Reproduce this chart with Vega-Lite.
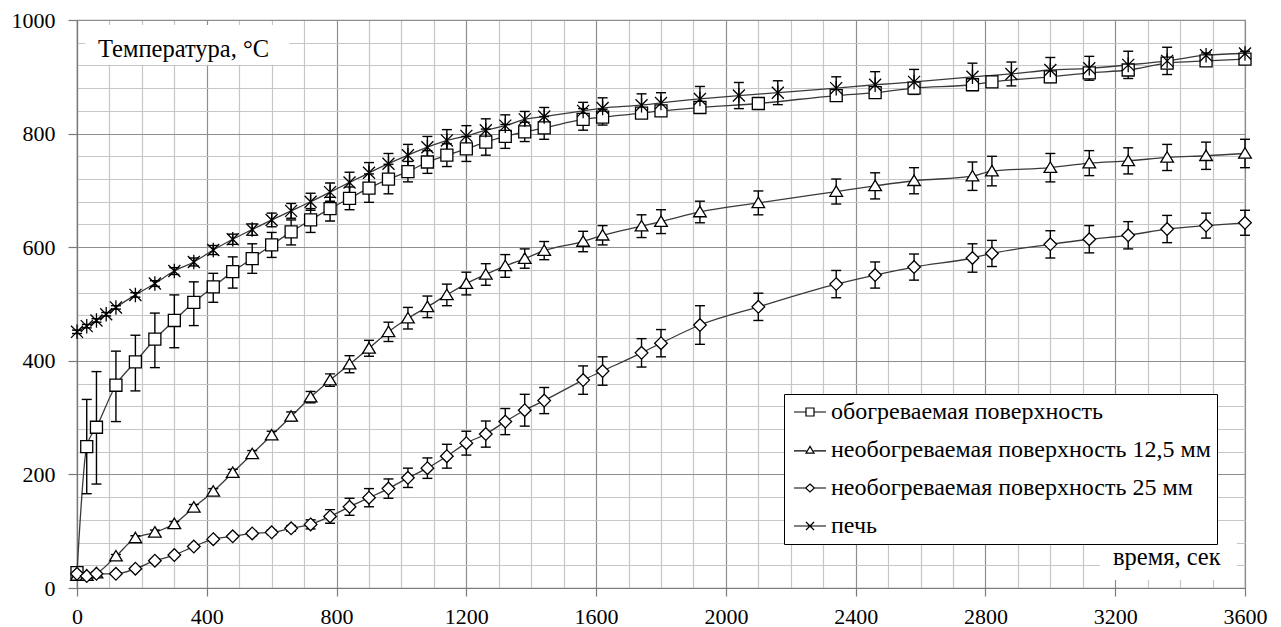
{
  "$schema": "https://vega.github.io/schema/vega-lite/v6.json",
  "width": 1168,
  "height": 568,
  "autosize": {"type": "none"},
  "padding": {"left": 77, "top": 20, "right": 36, "bottom": 39},
  "background": "white",
  "config": {
    "view": {"stroke": "#8a8a8a", "strokeWidth": 1.2},
    "font": "'Liberation Serif', 'DejaVu Serif', serif",
    "axis": {
      "labelFont": "'Liberation Serif', 'DejaVu Serif', serif",
      "labelFontSize": 22,
      "labelColor": "black",
      "domainColor": "#7a7a7a",
      "domainWidth": 1.2,
      "tickColor": "#7a7a7a",
      "tickWidth": 1.2,
      "gridWidth": 1.2,
      "labelOverlap": false,
      "labelFlush": false,
      "title": null
    },
    "legend": {
      "labelFont": "'Liberation Serif', 'DejaVu Serif', serif"
    }
  },
  "resolve": {"scale": {"shape": "independent"}, "legend": {"shape": "independent"}},
  "datasets": {
    "main": [
      {"s":"A","t":0,"T":27,"lo":24,"hi":30},
      {"s":"A","t":30,"T":249,"lo":166,"hi":332},
      {"s":"A","t":60,"T":283,"lo":183,"hi":381},
      {"s":"A","t":120,"T":357,"lo":293,"hi":417},
      {"s":"A","t":180,"T":398,"lo":347,"hi":445},
      {"s":"A","t":240,"T":438,"lo":388,"hi":484},
      {"s":"A","t":300,"T":471,"lo":423,"hi":516},
      {"s":"A","t":360,"T":503,"lo":462,"hi":539},
      {"s":"A","t":420,"T":530,"lo":503,"hi":554},
      {"s":"A","t":480,"T":557,"lo":528,"hi":583},
      {"s":"A","t":540,"T":580,"lo":554,"hi":606},
      {"s":"A","t":600,"T":604,"lo":582,"hi":626},
      {"s":"A","t":660,"T":627,"lo":604,"hi":648},
      {"s":"A","t":720,"T":648,"lo":626,"hi":668},
      {"s":"A","t":780,"T":668,"lo":646,"hi":688},
      {"s":"A","t":840,"T":686,"lo":666,"hi":706},
      {"s":"A","t":900,"T":704,"lo":679,"hi":729},
      {"s":"A","t":960,"T":720,"lo":694,"hi":746},
      {"s":"A","t":1020,"T":733,"lo":715,"hi":751},
      {"s":"A","t":1080,"T":750,"lo":730,"hi":770},
      {"s":"A","t":1140,"T":762,"lo":742,"hi":782},
      {"s":"A","t":1200,"T":773,"lo":751,"hi":795},
      {"s":"A","t":1260,"T":785,"lo":762,"hi":808},
      {"s":"A","t":1320,"T":795,"lo":774,"hi":816},
      {"s":"A","t":1380,"T":803,"lo":786,"hi":820},
      {"s":"A","t":1440,"T":810,"lo":790,"hi":830},
      {"s":"A","t":1560,"T":825,"lo":806,"hi":844},
      {"s":"A","t":1620,"T":829,"lo":815,"hi":843},
      {"s":"A","t":1740,"T":836,"lo":831,"hi":841},
      {"s":"A","t":1800,"T":840,"lo":835,"hi":845},
      {"s":"A","t":1920,"T":846,"lo":842,"hi":850},
      {"s":"A","t":2100,"T":853,"lo":848,"hi":858},
      {"s":"A","t":2340,"T":867,"lo":861,"hi":873},
      {"s":"A","t":2460,"T":872,"lo":866,"hi":878},
      {"s":"A","t":2580,"T":880,"lo":875,"hi":885},
      {"s":"A","t":2760,"T":886,"lo":881,"hi":891},
      {"s":"A","t":2820,"T":891,"lo":888,"hi":894},
      {"s":"A","t":3000,"T":900,"lo":895,"hi":905},
      {"s":"A","t":3120,"T":907,"lo":901,"hi":913},
      {"s":"A","t":3240,"T":912,"lo":906,"hi":918},
      {"s":"A","t":3360,"T":924,"lo":916,"hi":932},
      {"s":"A","t":3480,"T":928,"lo":923,"hi":933},
      {"s":"A","t":3600,"T":931,"lo":926,"hi":936},

      {"s":"B","t":0,"T":22,"lo":20,"hi":24},
      {"s":"B","t":30,"T":22,"lo":20,"hi":24},
      {"s":"B","t":60,"T":26,"lo":24,"hi":28},
      {"s":"B","t":120,"T":56,"lo":53,"hi":59},
      {"s":"B","t":180,"T":88,"lo":84,"hi":92},
      {"s":"B","t":240,"T":98,"lo":94,"hi":102},
      {"s":"B","t":300,"T":113,"lo":109,"hi":117},
      {"s":"B","t":360,"T":142,"lo":137,"hi":147},
      {"s":"B","t":420,"T":170,"lo":165,"hi":175},
      {"s":"B","t":480,"T":203,"lo":197,"hi":209},
      {"s":"B","t":540,"T":236,"lo":230,"hi":242},
      {"s":"B","t":600,"T":269,"lo":262,"hi":276},
      {"s":"B","t":660,"T":302,"lo":294,"hi":310},
      {"s":"B","t":720,"T":336,"lo":326,"hi":346},
      {"s":"B","t":780,"T":366,"lo":355,"hi":377},
      {"s":"B","t":840,"T":394,"lo":379,"hi":409},
      {"s":"B","t":900,"T":422,"lo":408,"hi":436},
      {"s":"B","t":960,"T":451,"lo":434,"hi":468},
      {"s":"B","t":1020,"T":475,"lo":456,"hi":494},
      {"s":"B","t":1080,"T":495,"lo":476,"hi":514},
      {"s":"B","t":1140,"T":516,"lo":497,"hi":535},
      {"s":"B","t":1200,"T":536,"lo":516,"hi":556},
      {"s":"B","t":1260,"T":552,"lo":533,"hi":571},
      {"s":"B","t":1320,"T":567,"lo":547,"hi":587},
      {"s":"B","t":1380,"T":580,"lo":563,"hi":597},
      {"s":"B","t":1440,"T":594,"lo":578,"hi":610},
      {"s":"B","t":1560,"T":610,"lo":592,"hi":628},
      {"s":"B","t":1620,"T":621,"lo":604,"hi":638},
      {"s":"B","t":1740,"T":637,"lo":617,"hi":657},
      {"s":"B","t":1800,"T":645,"lo":624,"hi":666},
      {"s":"B","t":1920,"T":662,"lo":643,"hi":681},
      {"s":"B","t":2100,"T":678,"lo":657,"hi":699},
      {"s":"B","t":2340,"T":698,"lo":676,"hi":720},
      {"s":"B","t":2460,"T":708,"lo":685,"hi":731},
      {"s":"B","t":2580,"T":717,"lo":694,"hi":740},
      {"s":"B","t":2760,"T":725,"lo":700,"hi":750},
      {"s":"B","t":2820,"T":734,"lo":708,"hi":760},
      {"s":"B","t":3000,"T":740,"lo":715,"hi":765},
      {"s":"B","t":3120,"T":748,"lo":726,"hi":770},
      {"s":"B","t":3240,"T":752,"lo":729,"hi":775},
      {"s":"B","t":3360,"T":758,"lo":735,"hi":781},
      {"s":"B","t":3480,"T":761,"lo":737,"hi":785},
      {"s":"B","t":3600,"T":765,"lo":740,"hi":790},

      {"s":"C","t":0,"T":25,"lo":23,"hi":27},
      {"s":"C","t":30,"T":21,"lo":19,"hi":23},
      {"s":"C","t":60,"T":25,"lo":23,"hi":27},
      {"s":"C","t":120,"T":25,"lo":23,"hi":27},
      {"s":"C","t":180,"T":34,"lo":32,"hi":36},
      {"s":"C","t":240,"T":48,"lo":45,"hi":51},
      {"s":"C","t":300,"T":58,"lo":55,"hi":61},
      {"s":"C","t":360,"T":73,"lo":70,"hi":76},
      {"s":"C","t":420,"T":86,"lo":83,"hi":89},
      {"s":"C","t":480,"T":91,"lo":88,"hi":94},
      {"s":"C","t":540,"T":96,"lo":92,"hi":100},
      {"s":"C","t":600,"T":98,"lo":94,"hi":102},
      {"s":"C","t":660,"T":105,"lo":100,"hi":110},
      {"s":"C","t":720,"T":112,"lo":104,"hi":120},
      {"s":"C","t":780,"T":126,"lo":114,"hi":138},
      {"s":"C","t":840,"T":143,"lo":128,"hi":158},
      {"s":"C","t":900,"T":159,"lo":143,"hi":175},
      {"s":"C","t":960,"T":175,"lo":158,"hi":192},
      {"s":"C","t":1020,"T":194,"lo":177,"hi":211},
      {"s":"C","t":1080,"T":211,"lo":193,"hi":229},
      {"s":"C","t":1140,"T":232,"lo":211,"hi":253},
      {"s":"C","t":1200,"T":255,"lo":234,"hi":276},
      {"s":"C","t":1260,"T":271,"lo":248,"hi":294},
      {"s":"C","t":1320,"T":293,"lo":270,"hi":316},
      {"s":"C","t":1380,"T":313,"lo":285,"hi":341},
      {"s":"C","t":1440,"T":330,"lo":307,"hi":353},
      {"s":"C","t":1560,"T":366,"lo":341,"hi":391},
      {"s":"C","t":1620,"T":382,"lo":357,"hi":407},
      {"s":"C","t":1740,"T":414,"lo":389,"hi":439},
      {"s":"C","t":1800,"T":431,"lo":407,"hi":455},
      {"s":"C","t":1920,"T":463,"lo":429,"hi":497},
      {"s":"C","t":2100,"T":495,"lo":471,"hi":519},
      {"s":"C","t":2340,"T":535,"lo":511,"hi":559},
      {"s":"C","t":2460,"T":551,"lo":528,"hi":574},
      {"s":"C","t":2580,"T":565,"lo":542,"hi":588},
      {"s":"C","t":2760,"T":581,"lo":556,"hi":606},
      {"s":"C","t":2820,"T":589,"lo":566,"hi":612},
      {"s":"C","t":3000,"T":605,"lo":581,"hi":629},
      {"s":"C","t":3120,"T":614,"lo":590,"hi":638},
      {"s":"C","t":3240,"T":621,"lo":597,"hi":645},
      {"s":"C","t":3360,"T":632,"lo":608,"hi":656},
      {"s":"C","t":3480,"T":638,"lo":616,"hi":660},
      {"s":"C","t":3600,"T":643,"lo":621,"hi":665},

      {"s":"D","t":0,"T":451,"lo":448,"hi":454},
      {"s":"D","t":30,"T":461,"lo":458,"hi":464},
      {"s":"D","t":60,"T":471,"lo":468,"hi":474},
      {"s":"D","t":90,"T":482,"lo":479,"hi":485},
      {"s":"D","t":120,"T":494,"lo":491,"hi":497},
      {"s":"D","t":180,"T":516,"lo":512,"hi":520},
      {"s":"D","t":240,"T":536,"lo":531,"hi":541},
      {"s":"D","t":300,"T":558,"lo":552,"hi":564},
      {"s":"D","t":360,"T":574,"lo":567,"hi":581},
      {"s":"D","t":420,"T":595,"lo":587,"hi":603},
      {"s":"D","t":480,"T":614,"lo":605,"hi":623},
      {"s":"D","t":540,"T":631,"lo":621,"hi":641},
      {"s":"D","t":600,"T":648,"lo":636,"hi":660},
      {"s":"D","t":660,"T":664,"lo":651,"hi":677},
      {"s":"D","t":720,"T":680,"lo":665,"hi":695},
      {"s":"D","t":780,"T":697,"lo":681,"hi":713},
      {"s":"D","t":840,"T":714,"lo":696,"hi":732},
      {"s":"D","t":900,"T":731,"lo":713,"hi":749},
      {"s":"D","t":960,"T":747,"lo":729,"hi":765},
      {"s":"D","t":1020,"T":762,"lo":743,"hi":781},
      {"s":"D","t":1080,"T":776,"lo":757,"hi":795},
      {"s":"D","t":1140,"T":788,"lo":769,"hi":807},
      {"s":"D","t":1200,"T":796,"lo":778,"hi":814},
      {"s":"D","t":1260,"T":806,"lo":786,"hi":826},
      {"s":"D","t":1320,"T":814,"lo":795,"hi":833},
      {"s":"D","t":1380,"T":825,"lo":811,"hi":839},
      {"s":"D","t":1440,"T":830,"lo":814,"hi":846},
      {"s":"D","t":1560,"T":840,"lo":825,"hi":855},
      {"s":"D","t":1620,"T":845,"lo":827,"hi":863},
      {"s":"D","t":1740,"T":850,"lo":830,"hi":870},
      {"s":"D","t":1800,"T":854,"lo":836,"hi":872},
      {"s":"D","t":1920,"T":861,"lo":839,"hi":883},
      {"s":"D","t":2040,"T":867,"lo":844,"hi":890},
      {"s":"D","t":2160,"T":872,"lo":851,"hi":893},
      {"s":"D","t":2340,"T":880,"lo":860,"hi":900},
      {"s":"D","t":2460,"T":886,"lo":863,"hi":909},
      {"s":"D","t":2580,"T":891,"lo":869,"hi":913},
      {"s":"D","t":2760,"T":900,"lo":876,"hi":924},
      {"s":"D","t":2880,"T":905,"lo":884,"hi":926},
      {"s":"D","t":3000,"T":912,"lo":890,"hi":934},
      {"s":"D","t":3120,"T":915,"lo":894,"hi":936},
      {"s":"D","t":3240,"T":921,"lo":897,"hi":945},
      {"s":"D","t":3360,"T":928,"lo":904,"hi":952},
      {"s":"D","t":3480,"T":938,"lo":934,"hi":942},
      {"s":"D","t":3600,"T":941,"lo":937,"hi":945}
    ]
  },
  "data": {"name": "main"},
  "encoding": {
    "x": {
      "field": "t", "type": "quantitative",
      "scale": {"domain": [0, 3600], "nice": false, "zero": false},
      "axis": {
        "values": [0,100,200,300,400,500,600,700,800,900,1000,1100,1200,1300,1400,1500,1600,1700,1800,1900,2000,2100,2200,2300,2400,2500,2600,2700,2800,2900,3000,3100,3200,3300,3400,3500,3600],
        "format": "d",
        "grid": true,
        "gridColor": {"condition": {"test": "datum.value % 400 === 0", "value": "#8e8e8e"}, "value": "#c6c6c6"},
        "tickOpacity": {"condition": {"test": "datum.value % 400 === 0", "value": 1}, "value": 0},
        "labelExpr": "datum.value % 400 === 0 ? datum.label : ''",
        "tickSize": 8,
        "labelPadding": 10
      }
    },
    "y": {
      "field": "T", "type": "quantitative",
      "scale": {"domain": [0, 1000], "nice": false},
      "axis": {
        "values": [0,40,80,120,160,200,240,280,320,360,400,440,480,520,560,600,640,680,720,760,800,840,880,920,960,1000],
        "format": "d",
        "grid": true,
        "gridColor": {"condition": {"test": "datum.value % 200 === 0", "value": "#8e8e8e"}, "value": "#c6c6c6"},
        "tickOpacity": {"condition": {"test": "datum.value % 200 === 0", "value": 1}, "value": 0},
        "labelExpr": "datum.value % 200 === 0 ? datum.label : ''",
        "tickSize": 9,
        "labelPadding": 13
      }
    }
  },
  "layer": [
    {
      "transform": [{"filter": "datum.s === 'A' && datum.t === 0"}],
      "mark": {"type": "rect", "fill": "white", "stroke": null},
      "encoding": {
        "x": {"datum": 25, "type": "quantitative"},
        "x2": {"datum": 655},
        "y": {"datum": 991, "type": "quantitative"},
        "y2": {"datum": 921}
      }
    },
    {
      "transform": [{"filter": "datum.s === 'A' && datum.t === 0"}],
      "mark": {"type": "text", "align": "left", "baseline": "alphabetic", "font": "'Liberation Serif', 'DejaVu Serif', serif", "fontSize": 24.5, "fill": "black"},
      "encoding": {
        "x": {"datum": 65, "type": "quantitative"},
        "y": {"datum": 935, "type": "quantitative"},
        "text": {"value": "Температура, °C"}
      }
    },
    {
      "transform": [{"filter": "datum.s === 'A' && datum.t === 0"}],
      "mark": {"type": "rect", "fill": "white", "stroke": null},
      "encoding": {
        "x": {"datum": 3153, "type": "quantitative"},
        "x2": {"datum": 3575},
        "y": {"datum": 91, "type": "quantitative"},
        "y2": {"datum": 14}
      }
    },
    {
      "transform": [{"filter": "datum.s === 'A' && datum.t === 0"}],
      "mark": {"type": "text", "align": "left", "baseline": "alphabetic", "font": "'Liberation Serif', 'DejaVu Serif', serif", "fontSize": 24.5, "fill": "black"},
      "encoding": {
        "x": {"datum": 3193, "type": "quantitative"},
        "y": {"datum": 40, "type": "quantitative"},
        "text": {"value": "время, сек"}
      }
    },
    {
      "mark": {"type": "line", "interpolate": "monotone", "color": "#3a3a3a", "strokeWidth": 1.3},
      "encoding": {"detail": {"field": "s"}}
    },
    {
      "mark": {"type": "rule", "color": "black", "strokeWidth": 1.4},
      "encoding": {"y": {"field": "lo", "type": "quantitative"}, "y2": {"field": "hi"}}
    },
    {
      "mark": {"type": "tick", "orient": "horizontal", "color": "black", "size": 10, "thickness": 1.4, "opacity": 1},
      "encoding": {"y": {"field": "lo", "type": "quantitative"}}
    },
    {
      "mark": {"type": "tick", "orient": "horizontal", "color": "black", "size": 10, "thickness": 1.4, "opacity": 1},
      "encoding": {"y": {"field": "hi", "type": "quantitative"}}
    },
    {
      "mark": {"type": "point", "filled": false, "fill": "white", "stroke": "black", "strokeWidth": 1.3, "opacity": 1, "fillOpacity": 1, "size": 160},
      "encoding": {
        "shape": {
          "field": "s", "type": "nominal",
          "scale": {
            "domain": ["A", "B", "C", "D"],
            "range": [
              "M-0.95,-0.95H0.95V0.95H-0.95Z",
              "M0,-0.9L1,0.75H-1Z",
              "M0,-1L1,0L0,1L-1,0Z",
              "M-0.95,-0.95L0.95,0.95M-0.95,0.95L0.95,-0.95M0,-1.15V1.15"
            ]
          },
          "legend": null
        }
      }
    },
    {
      "transform": [{"filter": "false"}],
      "mark": {"type": "point", "filled": false, "color": "black", "strokeWidth": 1.2, "opacity": 1, "size": 256},
      "encoding": {
        "shape": {
          "field": "s", "type": "nominal",
          "scale": {
            "domain": ["A", "B", "C", "D"],
            "range": [
              "M-2,0H-0.5M0.5,0H2M-0.5,-0.5H0.5V0.5H-0.5Z",
              "M-2,0.1H-0.45M0.45,0.1H2M0,-0.45L0.5,0.4H-0.5Z",
              "M-2,0H-0.55M0.55,0H2M0,-0.5L0.55,0L0,0.5L-0.55,0Z",
              "M-2,0H2M-0.5,-0.5L0.5,0.5M-0.5,0.5L0.5,-0.5"
            ]
          },
          "legend": {
            "orient": "none",
            "legendX": 707,
            "legendY": 374,
            "title": null,
            "strokeColor": "black",
            "fillColor": "white",
            "padding": 6,
            "symbolOffset": 8,
            "labelOffset": 9,
            "rowPadding": 14,
            "labelFont": "'Liberation Serif', 'DejaVu Serif', serif",
            "labelFontSize": 24,
            "labelColor": "black",
            "labelLimit": 600,
            "symbolSize": 256,
            "symbolStrokeColor": "black",
            "symbolStrokeWidth": 1.2,
            "symbolOpacity": 1,
            "labelExpr": "datum.value === 'A' ? 'обогреваемая поверхность' : datum.value === 'B' ? 'необогреваемая поверхность 12,5 мм' : datum.value === 'C' ? 'необогреваемая поверхность 25 мм' : 'печь'"
          }
        }
      }
    }
  ]
}
